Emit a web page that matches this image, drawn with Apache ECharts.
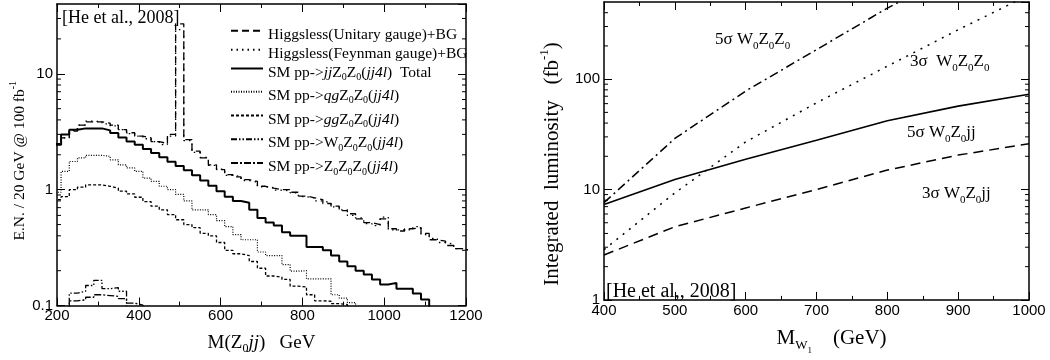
<!DOCTYPE html>
<html>
<head>
<meta charset="utf-8">
<script src="https://cdn.jsdelivr.net/npm/echarts@6/dist/echarts.min.js"></script>
<style>
html, body { margin: 0; padding: 0; background: #fff; }
#main { width: 1050px; height: 360px; }
</style>
</head>
<body>
<div id="main"></div>
<script>
// left panel: 20 GeV histogram bins (bin centres)
var massBins = [200, 220, 240, 260, 280, 300, 320, 340, 360, 380,
	400, 420, 440, 460, 480, 500, 520, 540, 560, 580,
	600, 620, 640, 660, 680, 700, 720, 740, 760, 780,
	800, 820, 840, 860, 880, 900, 920, 940, 960, 980,
	1000, 1020, 1040, 1060, 1080, 1100, 1120, 1140, 1160, 1180, 1200];

var higgsUnitary = [2.5, 2.8, 3.2, 3.6, 3.85, 3.85, 3.75, 3.6, 3.3, 3.1,
	2.9, 2.8, 2.6, 2.5, 3.0, 27, 2.7, 2.15, 1.88, 1.64,
	1.49, 1.35, 1.29, 1.22, 1.18, 1.07, 1.03, 1.0, 1.0, 0.95,
	0.88, 0.85, 0.82, 0.76, 0.72, 0.66, 0.62, 0.56, 0.52, 0.5,
	0.56, 0.46, 0.44, 0.46, 0.47, 0.42, 0.37, 0.36, 0.33, 0.31, 0.30];
var higgsFeynman = [2.5, 2.8, 3.25, 3.6, 3.9, 3.85, 3.7, 3.55, 3.3, 3.05,
	2.9, 2.75, 2.6, 2.45, 2.9, 24, 2.65, 2.1, 1.9, 1.62,
	1.5, 1.33, 1.3, 1.2, 1.16, 1.06, 1.04, 0.99, 0.98, 0.94,
	0.87, 0.85, 0.8, 0.77, 0.71, 0.67, 0.6, 0.57, 0.51, 0.49,
	0.58, 0.45, 0.45, 0.45, 0.48, 0.41, 0.38, 0.35, 0.34, 0.31, 0.30];
var smTotal = [2.44, 3.0, 3.29, 3.38, 3.38, 3.38, 3.25, 3.08, 2.82, 2.61,
	2.44, 2.24, 2.07, 1.9, 1.74, 1.6, 1.47, 1.33, 1.2, 1.08,
	0.97, 0.87, 0.8, 0.77, 0.67, 0.57, 0.52, 0.49, 0.43, 0.40,
	0.40, 0.32, 0.32, 0.30, 0.27, 0.24, 0.218, 0.20, 0.185, 0.168,
	0.152, 0.157, 0.14, 0.14, 0.127, 0.113, 0.05];
var smQG = [0.95, 1.44, 1.75, 1.88, 1.98, 1.98, 1.94, 1.81, 1.64, 1.54,
	1.44, 1.26, 1.18, 1.07, 1.0, 0.91, 0.8, 0.67, 0.67, 0.61,
	0.54, 0.48, 0.41, 0.37, 0.37, 0.29, 0.27, 0.27, 0.226, 0.198,
	0.20, 0.17, 0.17, 0.17, 0.124, 0.116, 0.106, 0.05];
var smGG = [0.82, 0.87, 1.0, 1.05, 1.1, 1.1, 1.07, 1.03, 0.97, 0.92,
	0.86, 0.79, 0.72, 0.67, 0.61, 0.55, 0.50, 0.47, 0.42, 0.40,
	0.35, 0.30, 0.28, 0.27, 0.24, 0.21, 0.18, 0.176, 0.168, 0.147,
	0.145, 0.124, 0.11, 0.109, 0.104, 0.102, 0.05];
var smWZZ = [null, 0.05, 0.128, 0.133, 0.149, 0.165, 0.14, 0.143, 0.133, 0.05];
var smZZZ = [null, 0.05, 0.11, 0.112, 0.118, 0.124, 0.122, 0.12, 0.115, 0.105, 0.101, 0.05];

// right panel: luminosity needed vs M_W1
var mW1 = [400, 500, 600, 700, 800, 900, 1000];
var lum5sWZZ = [7.6, 29, 78, 185, 440, 950, null];
var lum3sWZZ = [2.85, 9.3, 27, 61, 131, 280, 580];
var lum5sWZjj = [7.3, 12.3, 18.8, 28, 42, 57, 73];
var lum3sWZjj = [2.55, 4.6, 6.8, 10, 15, 20.5, 26];

// minor ticks on the log axes
var leftMinorTicks = [0.2, 0.3, 0.4, 0.5, 0.6, 0.7, 0.8, 0.9, 2, 3, 4, 5, 6, 7, 8, 9, 20, 30];
var rightMinorTicks = [2, 3, 4, 5, 6, 7, 8, 9, 20, 30, 40, 50, 60, 70, 80, 90, 200, 300, 400];

var SERIF = 'Liberation Serif';
var SANS = 'Liberation Sans';

function richSet(b) {
	var pad = b * 0.25;
	var sub = Math.round(b * 0.62);
	var st = function(size, dy, it) {
		return { fontFamily: SERIF, fontSize: size, lineHeight: size, color: '#000', fontWeight: 'normal',
			verticalAlign: 'top', padding: [dy, 0, 0, 0], fontStyle: it ? 'italic' : 'normal' };
	};
	return {
		n: st(b, pad), i: st(b, pad, true),
		s: st(sub, pad + b / 2 + b * 0.33 - sub / 2),
		p: st(sub, pad + b / 2 - b * 0.4 - sub / 2),
		ss: st(Math.round(b * 0.45), pad + b / 2 + b * 0.58 - b * 0.225)
	};
}
// same set, with extra room before / after the text (to shift a centred name)
function richShift(b, before, after) {
	var r = richSet(b);
	r.a = echarts.util.clone(r.n);
	r.a.padding = [r.n.padding[0], 0, 0, before];
	r.z = echarts.util.clone(r.n);
	r.z.padding = [r.n.padding[0], after, 0, 0];
	return r;
}

var N_U = 'Higgsless(Unitary gauge)+BG';
var N_F = 'Higgsless(Feynman gauge)+BG';
var N_T = 'SM pp->jjZ0Z0(jj4l)  Total';
var N_QG = 'SM pp->qgZ0Z0(jj4l)';
var N_GG = 'SM pp->ggZ0Z0(jj4l)';
var N_W = 'SM pp->W0Z0Z0(jj4l)';
var N_Z = 'SM pp->Z0Z0Z0(jj4l)';
var legendText = {};
legendText[N_U] = '{n|' + N_U + '}';
legendText[N_F] = '{n|' + N_F + '}';
legendText[N_T] = '{n|SM pp->}{i|jj}{n|Z}{s|0}{n|Z}{s|0}{n|(}{i|jj4l}{n|)  Total}';
legendText[N_QG] = '{n|SM pp->}{i|qg}{n|Z}{s|0}{n|Z}{s|0}{n|(}{i|jj4l}{n|)}';
legendText[N_GG] = '{n|SM pp->}{i|gg}{n|Z}{s|0}{n|Z}{s|0}{n|(}{i|jj4l}{n|)}';
legendText[N_W] = '{n|SM pp->W}{s|0}{n|Z}{s|0}{n|Z}{s|0}{n|(}{i|jj4l}{n|)}';
legendText[N_Z] = '{n|SM pp->Z}{s|0}{n|Z}{s|0}{n|Z}{s|0}{n|(}{i|jj4l}{n|)}';

// histogram -> step line points (bin edges)
function stepData(vals) {
	var half = (massBins[1] - massBins[0]) / 2;
	var pts = [], last = -1;
	for (var i = 0; i < massBins.length; i++) {
		if (vals[i] == null) continue;
		pts.push([massBins[i] - half, vals[i]]);
		last = i;
	}
	if (last >= 0) pts.push([massBins[last] + half, vals[last]]);
	return pts;
}

function histSeries(name, vals, dash, width) {
	return {
		name: name, type: 'line', xAxisIndex: 0, yAxisIndex: 0, step: 'end',
		symbol: 'none', data: stepData(vals), clip: true,
		lineStyle: { color: '#000', width: width, type: dash },
		itemStyle: { color: '#000' }
	};
}

function curveSeries(vals, dash, width) {
	return {
		type: 'line', xAxisIndex: 2, yAxisIndex: 2, symbol: 'none', clip: true,
		data: mW1.map(function(m, i) { return [m, vals[i]]; }).filter(function(d) { return d[1] != null; }),
		lineStyle: { color: '#000', width: width, type: dash }
	};
}

function minorTickSeries(xi, yi, ticks, xRef) {
	return {
		type: 'custom', xAxisIndex: xi, yAxisIndex: yi, silent: true,
		data: ticks.map(function(v) { return [xRef, v]; }),
		renderItem: function(params, api) {
			var y = api.coord([xRef, api.value(1)])[1];
			var cs = params.coordSys;
			var st = { stroke: '#000', lineWidth: 1 };
			return { type: 'group', children: [
				{ type: 'line', shape: { x1: cs.x, y1: y, x2: cs.x + 4, y2: y }, style: st },
				{ type: 'line', shape: { x1: cs.x + cs.width - 4, y1: y, x2: cs.x + cs.width, y2: y }, style: st }
			] };
		}
	};
}

var axisLineStyle = { color: '#000', width: 1.5 };
function xAx(grid, pos, min, max, interval, name, gap, rich) {
	return {
		type: 'value', gridIndex: grid, position: pos, min: min, max: max, interval: interval,
		axisLine: { show: true, onZero: false, lineStyle: axisLineStyle },
		axisTick: { show: true, inside: true, length: 8, lineStyle: { color: '#000', width: 1 } },
		minorTick: { show: true, splitNumber: 2, length: 4, lineStyle: { color: '#000', width: 1 } },
		axisLabel: { show: pos == 'bottom', color: '#000', fontFamily: SANS, fontSize: 15, margin: 3,
			formatter: function(v) { return String(v); } },
		splitLine: { show: false },
		name: name, nameLocation: 'middle', nameGap: gap,
		nameTextStyle: { rich: rich }
	};
}
function yAx(grid, pos, min, max, name, gap, rich) {
	return {
		type: 'log', logBase: 10, gridIndex: grid, position: pos, min: min, max: max,
		axisLine: { show: true, lineStyle: axisLineStyle },
		axisTick: { show: true, inside: true, length: 8, lineStyle: { color: '#000', width: 1 } },
		axisLabel: { show: pos == 'left', color: '#000', fontFamily: SANS, fontSize: 15, margin: 4,
			showMaxLabel: false, formatter: function(v) { return String(+v.toPrecision(3)); } },
		splitLine: { show: false },
		name: name, nameLocation: 'middle', nameGap: gap,
		nameTextStyle: { rich: rich }
	};
}

function label(text, left, centerY, size) {
	var r = richSet(size);
	return { text: text, left: left, top: centerY - (size * 0.25 + size / 2), padding: 0,
		textStyle: { rich: r, fontWeight: 'normal' } };
}

var legendBase = {
	orient: 'vertical', left: 230, padding: 0, itemWidth: 32, itemHeight: 14, selectedMode: false,
	itemStyle: { opacity: 0 },
	formatter: function(n) { return legendText[n]; },
	textStyle: { rich: richSet(15.5) }
};

var myChart = echarts.init(document.getElementById('main'));
var option = {
	animation: false,
	backgroundColor: '#fff',
	grid: [
		{ left: 57, top: 4, width: 409, height: 302 },
		{ left: 604, top: 2, width: 425, height: 304 }
	],
	title: [
		label('{n|[He et al., 2008]}', 62, 18, 18),
		label('{n|5σ W}{s|0}{n|Z}{s|0}{n|Z}{s|0}', 715, 40, 17),
		label('{n|3σ  W}{s|0}{n|Z}{s|0}{n|Z}{s|0}', 910, 62, 17),
		label('{n|5σ W}{s|0}{n|Z}{s|0}{n|jj}', 907, 133, 17),
		label('{n|3σ W}{s|0}{n|Z}{s|0}{n|jj}', 922, 194, 17),
		label('{n|[He et al,, 2008]}', 606, 292, 20)
	],
	legend: [
		echarts.util.merge({ data: [N_U, N_F, N_T], top: 23, itemGap: -1 }, legendBase),
		echarts.util.merge({ data: [N_QG, N_GG, N_W, N_Z], top: 84, itemGap: 2 }, legendBase)
	],
	xAxis: [
		xAx(0, 'bottom', 200, 1200, 200, '{n|M(Z}{s|0}{i|jj}{n|)   GeV}', 22, richSet(19)),
		xAx(0, 'top', 200, 1200, 200, '', 0, {}),
		xAx(1, 'bottom', 400, 1000, 100, '{a|M}{s|W}{ss|1}{n|    (GeV)}', 15, richShift(21, 30, 0)),
		xAx(1, 'top', 400, 1000, 100, '', 0, {})
	],
	yAxis: [
		yAx(0, 'left', 0.1, 40, '{n|E.N. / 20 GeV @ 100 fb}{p|-1}{z| }', 27, richShift(15.5, 0, 8)),
		yAx(0, 'right', 0.1, 40, '', 0, {}),
		yAx(1, 'left', 1, 500, '{n|Integrated  luminosity   (fb}{p|-1}{z|)}', 46, richShift(21, 0, 26)),
		yAx(1, 'right', 1, 500, '', 0, {})
	],
	series: [
		histSeries(N_U, higgsUnitary, [7, 4], 1.3),
		histSeries(N_F, higgsFeynman, [1.5, 4], 1.3),
		histSeries(N_T, smTotal, 'solid', 2),
		histSeries(N_QG, smQG, [1, 1.5], 1.2),
		histSeries(N_GG, smGG, [3, 2], 1.3),
		histSeries(N_W, smWZZ, [6, 2, 1.5, 2, 1.5, 2], 1.3),
		histSeries(N_Z, smZZZ, [7, 2, 2, 2], 1.3),
		curveSeries(lum5sWZZ, [9, 4, 2, 4], 1.5),
		curveSeries(lum3sWZZ, [2, 6], 1.5),
		curveSeries(lum5sWZjj, 'solid', 1.6),
		curveSeries(lum3sWZjj, [10, 6], 1.5),
		minorTickSeries(0, 0, leftMinorTicks, 200),
		minorTickSeries(2, 2, rightMinorTicks, 400)
	]
};
myChart.setOption(option);
</script>
</body>
</html>
